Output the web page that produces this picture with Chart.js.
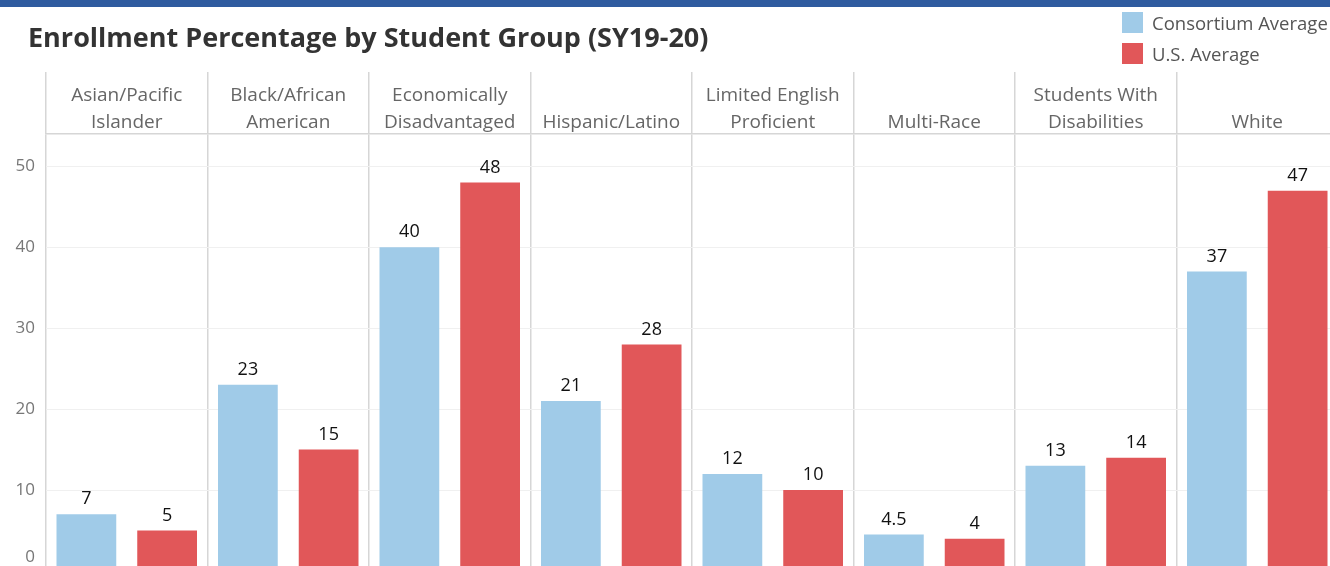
<!DOCTYPE html>
<html>
<head>
<meta charset="utf-8">
<script src="https://cdn.jsdelivr.net/npm/chart.js@4.4.1/dist/chart.umd.min.js"></script>
<style>
  html, body { margin: 0; padding: 0; width: 1330px; height: 566px; overflow: hidden; background: #fff; }
  .topband { position: absolute; left: 0; top: 0; width: 1330px; height: 7px; background: #2f5b9f; }
  .title { position: absolute; left: 28px; top: 18px; font: bold 27px "Open Sans", sans-serif; color: #333; white-space: nowrap; }
  .legend { position: absolute; left: 1122px; top: 12px; font: 18.5px "Open Sans", sans-serif; color: #555; white-space: nowrap; }
  .legend div { height: 31px; display: flex; align-items: flex-start; }
  .legend span.sw { display: inline-block; width: 21px; height: 21px; margin-right: 9px; }
  .legend span.lb { line-height: 21px; }
  #wrap { position: absolute; left: 0; top: 0; width: 1340px; height: 574px; }
</style>
</head>
<body>
<div id="wrap"><canvas id="enrollChart" width="1340" height="574"></canvas></div>
<div class="topband"></div>
<div class="title">Enrollment Percentage by Student Group (SY19-20)</div>
<div class="legend">
  <div><span class="sw" style="background:#a0cbe8"></span><span class="lb">Consortium Average</span></div>
  <div><span class="sw" style="background:#e15759"></span><span class="lb">U.S. Average</span></div>
</div>
<script>
// Student groups (header labels, split across lines)
const groups = [
  ["Asian/Pacific", "Islander"],
  ["Black/African", "American"],
  ["Economically", "Disadvantaged"],
  "Hispanic/Latino",
  ["Limited English", "Proficient"],
  "Multi-Race",
  ["Students With", "Disabilities"],
  "White",
]

// Enrollment percentages
const consortiumAvg = [7, 23, 40, 21, 12, 4.5, 13, 37]
const usAvg = [5, 15, 48, 28, 10, 4, 14, 47]

const yTicks = [0, 10, 20, 30, 40, 50]

// value labels above bars
const barLabels = {
  id: "barLabels",
  afterDatasetsDraw(chart) {
    const ctx = chart.ctx
    ctx.save()
    ctx.font = '18px "Open Sans", sans-serif'
    ctx.fillStyle = "#111"
    ctx.textAlign = "center"
    ctx.textBaseline = "bottom"
    chart.data.datasets.forEach((ds, i) => {
      chart.getDatasetMeta(i).data.forEach((bar, j) => {
        ctx.fillText(String(ds.data[j]), bar.x, bar.y - 6)
      })
    })
    ctx.restore()
  },
}

const ctx = document.getElementById("enrollChart")
new Chart(ctx, {
  type: "bar",
  data: {
    labels: groups,
    datasets: [
      {
        label: "Consortium Average",
        data: consortiumAvg,
        backgroundColor: "#a0cbe8",
      },
      {
        label: "U.S. Average",
        data: usAvg,
        backgroundColor: "#e15759",
      },
    ],
  },
  options: {
    responsive: false,
    animation: false,
    categoryPercentage: 1.0,
    barPercentage: 0.74,
    layout: { padding: { top: 72, right: 2, bottom: 3, left: 0 } },
    plugins: {
      legend: { display: false },
      tooltip: { enabled: false },
    },
    scales: {
      x: {
        position: "top",
        grid: {
          offset: true,
          color: "#d6d6d6",
          lineWidth: 1.5,
          drawTicks: true,
          tickLength: 62,
        },
        border: { display: true, color: "#d6d6d6", width: 1.5 },
        ticks: {
          padding: -64,
          maxRotation: 0,
          autoSkip: false,
          color: "#666",
          font: { family: "Open Sans", size: 19, lineHeight: 1.42 },
        },
        afterFit: (scale) => {
          scale.height = 62
        },
      },
      y: {
        min: 0,
        max: 54,
        grid: { color: "#f0f0f0", drawTicks: false },
        border: { display: false },
        ticks: {
          padding: 11,
          color: "#777",
          font: { family: "Open Sans", size: 17, lineHeight: 1.6 },
          // bottom label sits a little above its tick, like the original
          callback: (value) => (value === 0 ? ["0", ""] : String(value)),
        },
        afterBuildTicks: (scale) => {
          scale.ticks = yTicks.map((v) => ({ value: v }))
        },
        afterFit: (scale) => {
          scale.width = 46
          scale.paddingTop = 0
          scale.paddingBottom = 0
        },
      },
    },
  },
  plugins: [barLabels],
})
</script>
</body>
</html>
